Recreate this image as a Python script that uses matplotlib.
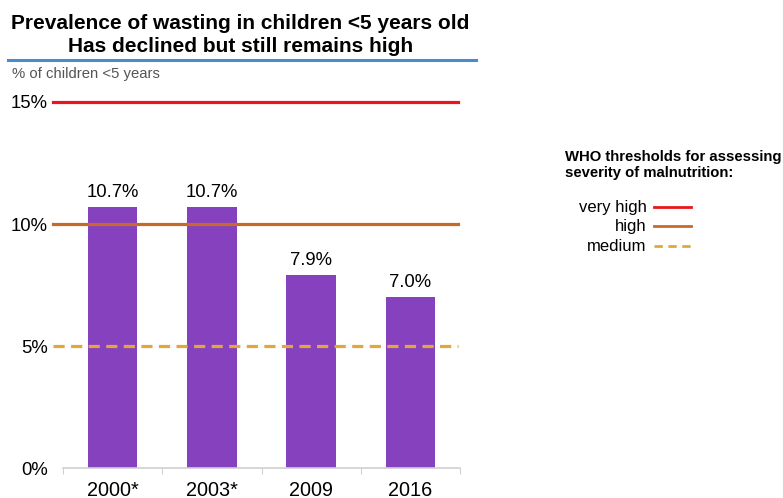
import matplotlib
matplotlib.use('Agg')
import matplotlib.pyplot as plt
from matplotlib.lines import Line2D

plt.rcParams['font.family'] = ['Liberation Sans', 'DejaVu Sans']

years = ['2000*', '2003*', '2009', '2016']
wasting = [10.7, 10.7, 7.9, 7.0]

threshold_names = ['very high', 'high', 'medium']
threshold_values = [15, 10, 5]
threshold_colors = ['#E8161E', '#C8692A', '#E2A73A']
threshold_styles = ['-', '-', '--']

yticks = [0, 5, 10, 15]

fig = plt.figure(figsize=(7.83, 4.98), dpi=100)
ax = fig.add_axes([0.0805, 0.0602, 0.507, 0.784])

x = range(len(years))
ax.bar(x, wasting, width=0.5, color='#8642BE', zorder=2)
for xi, v in zip(x, wasting):
    ax.text(xi, v + 0.25, f'{v:.1f}%', ha='center', va='bottom', fontsize=13.3)

for val, col, ls in zip(threshold_values, threshold_colors, threshold_styles):
    ax.axhline(val, xmin=-0.025, xmax=0.995, color=col, linestyle=ls,
               linewidth=2.3, dashes=(3.5, 2) if ls == '--' else (None, None),
               clip_on=False, zorder=3)

ax.set_xlim(-0.5, 3.5)
ax.set_ylim(0, 16)
ax.set_xticks([i - 0.5 for i in range(len(years) + 1)], minor=False)
ax.set_xticklabels([])
ax.set_xticks(list(x), minor=True)
ax.set_xticklabels(years, minor=True, fontsize=14.3)
ax.tick_params(axis='x', which='major', length=4, color='#D0D0D0', direction='out')
ax.tick_params(axis='x', which='minor', length=0, pad=9)
ax.set_yticks(yticks)
ax.set_yticklabels([f'{t}%' for t in yticks], fontsize=13.3)
ax.tick_params(axis='y', length=0, pad=11)

for s in ['top', 'right', 'left']:
    ax.spines[s].set_visible(False)
ax.spines['bottom'].set_color('#D0D0D0')
ax.spines['bottom'].set_linewidth(1.2)

fig.text(0.307, 0.930, 'Prevalence of wasting in children <5 years old\nHas declined but still remains high',
         ha='center', va='center', fontsize=15, fontweight='bold', linespacing=1.3)
fig.add_artist(Line2D([0.010, 0.608], [0.879, 0.879], color='#4A8CCB', linewidth=2.2))
fig.text(0.015, 0.852, '% of children <5 years', ha='left', va='center',
         fontsize=10.7, color='#555555')

# legend for the WHO thresholds
fig.text(0.722, 0.668, 'WHO thresholds for assessing\nseverity of malnutrition:',
         ha='left', va='center', fontsize=10.7, fontweight='bold', linespacing=1.2)
legend_y = [0.584, 0.546, 0.506]
for name, col, ls, yy in zip(threshold_names, threshold_colors, threshold_styles, legend_y):
    fig.text(0.826, yy, name, ha='right', va='center', fontsize=12)
    fig.add_artist(Line2D([0.835, 0.882], [yy, yy], color=col, linestyle=ls,
                          linewidth=2.0, dashes=(3, 2) if ls == '--' else (None, None)))

fig.savefig('out.png', dpi=100)
